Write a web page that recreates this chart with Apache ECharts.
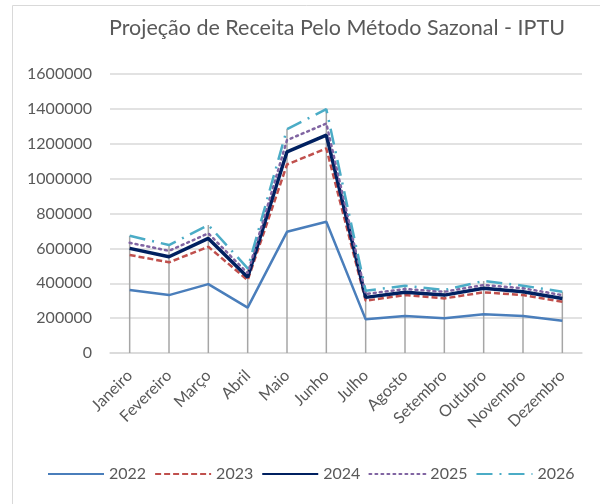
<!DOCTYPE html>
<html>
<head>
<meta charset="utf-8">
<script src="https://cdn.jsdelivr.net/npm/echarts@6/dist/echarts.min.js"></script>
<style>
  html, body { margin: 0; padding: 0; background: #fff; }
  #chart { width: 600px; height: 504px; }
</style>
</head>
<body>
<div id="chart"></div>
<script>
const meses = ['Janeiro', 'Fevereiro', 'Março', 'Abril', 'Maio', 'Junho', 'Julho', 'Agosto', 'Setembro', 'Outubro', 'Novembro', 'Dezembro']
const anos = ['2022', '2023', '2024', '2025', '2026']

const v2022 = [361000, 332000, 395000, 260000, 695000, 753000, 193000, 212000, 199000, 222000, 212000, 185000]
const v2023 = [562000, 520000, 609000, 418000, 1081000, 1173000, 300000, 332000, 313000, 348000, 332000, 294000]
const v2024 = [600000, 552000, 657000, 434000, 1154000, 1249000, 319000, 348000, 332000, 371000, 351000, 313000]
const v2025 = [632000, 586000, 686000, 457000, 1221000, 1316000, 338000, 367000, 351000, 390000, 371000, 332000]
const v2026 = [672000, 619000, 734000, 485000, 1284000, 1398000, 357000, 386000, 361000, 413000, 386000, 351000]

const yTicks = [0, 200000, 400000, 600000, 800000, 1000000, 1200000, 1400000, 1600000]

const valores = [v2022, v2023, v2024, v2025, v2026]
// linhas de chamada: do eixo até o maior valor de cada mês
const maximos = meses.map((_, i) => Math.max(...valores.map(s => s[i])))

const estilos = [
  { color: '#4a7ebb', width: 2.5, type: 'solid' },
  { color: '#c0504d', width: 2.5, type: [6, 3] },
  { color: '#002060', width: 3.5, type: 'solid' },
  { color: '#8064a2', width: 2.5, type: [2, 4], cap: 'round' },
  { color: '#4bacc6', width: 2.5, type: [16, 7, 2, 7] }
]

const font = 'Lato, "Open Sans", sans-serif'
const chart = echarts.init(document.getElementById('chart'))

chart.setOption({
  animation: false,
  textStyle: { fontFamily: font },
  title: {
    text: 'Projeção de Receita Pelo Método Sazonal - IPTU',
    left: 104, top: 12,
    textStyle: { fontFamily: font, fontSize: 21.5, fontWeight: 'normal', color: '#595959' }
  },
  graphic: [{
    type: 'rect', left: 10, top: 3, silent: true, z: -10,
    shape: { width: 600, height: 499 },
    style: { fill: 'none', stroke: '#d9d9d9', lineWidth: 1 }
  }],
  legend: {
    data: anos,
    left: 42, top: 461,
    itemWidth: 56, itemHeight: 10, itemGap: 8,
    itemStyle: { color: 'rgba(0,0,0,0)', borderWidth: 0, opacity: 0 },
    textStyle: { fontFamily: font, fontSize: 16, color: '#595959' }
  },
  grid: { left: 110, right: 18, top: 74, bottom: 151 },
  xAxis: {
    type: 'category', data: meses, boundaryGap: true,
    axisLine: { lineStyle: { color: '#d9d9d9', width: 1.5 } },
    axisTick: { show: false },
    axisLabel: { color: '#595959', fontSize: 16, rotate: 45, margin: 20, interval: 0, fontFamily: font }
  },
  yAxis: {
    type: 'value', min: yTicks[0], max: yTicks[yTicks.length - 1], interval: yTicks[1] - yTicks[0],
    axisLine: { show: false }, axisTick: { show: false },
    axisLabel: { color: '#595959', fontSize: 16, margin: 18, fontFamily: font, formatter: v => String(v) },
    splitLine: { lineStyle: { color: '#d9d9d9', width: 1.5 } }
  },
  series: [
    {
      name: 'linhas', type: 'bar', data: maximos, barWidth: 1.5, silent: true, z: 1,
      itemStyle: { color: '#a6a6a6' }
    },
    ...anos.map((ano, k) => ({
      name: ano, type: 'line', data: valores[k], symbol: 'none', z: 2 + k,
      lineStyle: estilos[k],
      itemStyle: { color: estilos[k].color }
    }))
  ]
})
</script>
</body>
</html>
